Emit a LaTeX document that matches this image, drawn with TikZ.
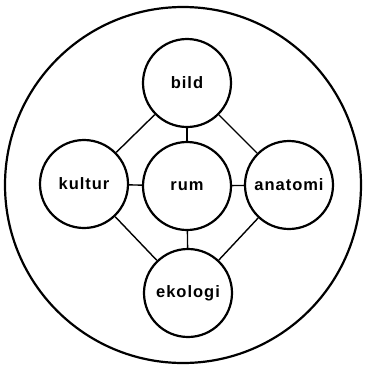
\documentclass[tikz,border=0pt]{standalone}
\usepackage{fontspec}
\setmainfont{Liberation Sans}[LetterSpace=6]
\begin{document}
\begin{tikzpicture}[x=1pt,y=-1pt,
  bub/.style={circle,draw,line width=2.2pt,minimum size=88pt,inner sep=0pt,font=\fontsize{16.5}{18}\selectfont\bfseries},
  link/.style={line width=1.4pt}]
\useasboundingbox (0,0) rectangle (365,368);
\node[circle,draw,line width=2.2pt,minimum size=356pt,inner sep=0pt] (outer) at (183,185) {};
\node[bub] (bild) at (187,83) {bild};
\node[bub] (kultur) at (84,184) {kultur};
\node[bub] (rum) at (187,186) {rum};
\node[bub] (anatomi) at (289,185) {anatomi};
\node[bub] (ekologi) at (188,293) {ekologi};
\draw[link] (bild) -- (kultur);
\draw[link] (bild) -- (anatomi);
\draw[link] (bild) -- (rum);
\draw[link] (kultur) -- (rum);
\draw[link] (rum) -- (anatomi);
\draw[link] (rum) -- (ekologi);
\draw[link] (kultur) -- (ekologi);
\draw[link] (anatomi) -- (ekologi);
\end{tikzpicture}
\end{document}
